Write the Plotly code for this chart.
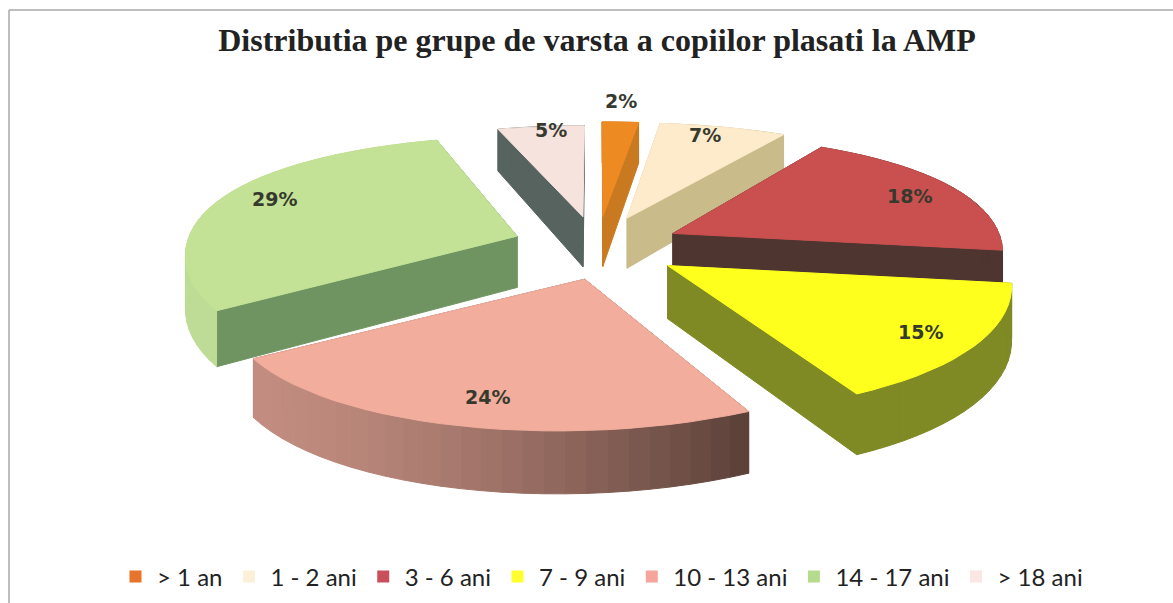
import math
import plotly.graph_objects as go

# --- data ---
CATEGORIES = ["> 1 an", "1 - 2 ani", "3 - 6 ani", "7 - 9 ani", "10 - 13 ani", "14 - 17 ani", "> 18 ani"]
PERCENTS = [2, 7, 18, 15, 24, 29, 5]
TITLE = "Distributia pe grupe de varsta a copiilor plasati la AMP"

# --- style ---
TOP = ["#EE8A22", "#FDEBCB", "#C9504F", "#FFFF1E", "#F2AD9C", "#C3E295", "#F7E3DE"]
LEGEND_COLORS = ["#E8742C", "#FDF0D8", "#C9505A", "#FFFF30", "#F5A59C", "#B5DC8C", "#FBE6E6"]
EDGE = ["#C97A20", "#C9BB8A", "#4F3530", "#7F8A25", "#8A5A50", "#6F9461", "#56635F"]
ARC_A = ["#C97A20", "#C9BB8A", "#4F3530", "#7F8A25", "#C28C80", "#BEDC95", "#56635F"]
ARC_B = ["#C97A20", "#C9BB8A", "#4F3530", "#7F8A25", "#5A4038", "#BEDC95", "#56635F"]
LABEL_XY = [(621, 101), (705, 135), (909, 196), (920, 332), (487, 397), (274, 199), (551, 130)]
DRAW_ORDER = [6, 1, 0, 2, 5, 3, 4]
EXPLODE = 0.23
RADIUS = [1.0, 1.0, 0.957, 0.97, 0.99, 0.96, 0.95]
NUDGE_X = [5, 8, 9, 8, 12, -2, 2]
SHEAR_X = [0, 0, 0, 0, 25, 0, 0]


def project(px, py):
    x = 593 + 345 * (1 - 0.13 * py) * px
    if py > 0:
        y = 247 - 143 * py / (1 + 0.33 * py)
    else:
        y = 247 - 143 * py * (1 - 0.05 * py)
    return x, y


def depth(py):
    return 52 - 9 * py


def mix(a, b, t):
    ca = [int(a[i:i + 2], 16) for i in (1, 3, 5)]
    cb = [int(b[i:i + 2], 16) for i in (1, 3, 5)]
    return "rgb(%d,%d,%d)" % tuple(round(u + (v - u) * t) for u, v in zip(ca, cb))


def poly(points, color):
    xs = [p[0] for p in points] + [points[0][0]]
    ys = [p[1] for p in points] + [points[0][1]]
    return go.Scatter(x=xs, y=ys, mode="lines", fill="toself", fillcolor=color,
                      line=dict(color=color, width=1), hoverinfo="skip", showlegend=False)


total = sum(PERCENTS)
starts = []
acc = 0
for v in PERCENTS:
    starts.append(acc)
    acc += v

fig = go.Figure()
for i in DRAW_ORDER:
    a0 = 2 * math.pi * starts[i] / total
    a1 = 2 * math.pi * (starts[i] + PERCENTS[i]) / total
    mid = (a0 + a1) / 2
    ox, oy = EXPLODE * math.sin(mid), EXPLODE * math.cos(mid)
    n = max(4, int(PERCENTS[i] * 1.2))
    r = RADIUS[i]
    arc = [(ox + r * math.sin(a0 + (a1 - a0) * k / n), oy + r * math.cos(a0 + (a1 - a0) * k / n)) for k in range(n + 1)]
    apex = (ox, oy)

    def top(p):
        x, y = project(*p)
        return x + NUDGE_X[i] + SHEAR_X[i] * (p[1] - oy), y

    def down(p):
        x, y = top(p)
        return x, y + depth(p[1])

    for tip in (arc[0], arc[-1]):
        fig.add_trace(poly([top(apex), top(tip), down(tip), down(apex)], EDGE[i]))
    xmin = min(top(p)[0] for p in arc)
    xmax = max(top(p)[0] for p in arc)
    for k in range(n):
        p, q = arc[k], arc[k + 1]
        t = ((top(p)[0] + top(q)[0]) / 2 - xmin) / max(1, xmax - xmin)
        fig.add_trace(poly([top(p), top(q), down(q), down(p)], mix(ARC_A[i], ARC_B[i], t ** 1.5)))
    fig.add_trace(poly([top(apex)] + [top(p) for p in arc], TOP[i]))

for name, color in zip(CATEGORIES, LEGEND_COLORS):
    fig.add_trace(go.Scatter(x=[None], y=[None], mode="markers", name=name,
                             marker=dict(symbol="square", size=13, color=color)))

annotations = [dict(x=x, y=y, xref="x", yref="y", text=f"{v}%", showarrow=False,
                    font=dict(family="DejaVu Sans", size=19, color="#363A2E", weight="bold"))
               for v, (x, y) in zip(PERCENTS, LABEL_XY)]

fig.update_layout(
    width=1173, height=603, autosize=False,
    margin=dict(l=0, r=0, t=0, b=0),
    paper_bgcolor="white", plot_bgcolor="white",
    title=dict(text=TITLE, x=597 / 1173, y=1 - 40 / 603, xanchor="center", yanchor="middle",
               font=dict(family="Liberation Serif", size=32, color="#222222", weight="bold")),
    xaxis=dict(range=[0, 1173], visible=False, fixedrange=True),
    yaxis=dict(range=[603, 0], visible=False, fixedrange=True),
    legend=dict(orientation="h", x=601 / 1173, xanchor="center", y=1 - 577 / 603, yanchor="middle",
                font=dict(family="Lato", size=24, color="#222222"), itemsizing="constant",
                itemwidth=33, bgcolor="rgba(0,0,0,0)", traceorder="normal"),
    annotations=annotations,
    shapes=[
        dict(type="line", xref="x", yref="y", x0=9, y0=10, x1=9, y1=603, line=dict(color="#A8A8A8", width=1.5)),
        dict(type="line", xref="x", yref="y", x0=9, y0=10, x1=1173, y1=10, line=dict(color="#A8A8A8", width=1.5)),
    ],
)

fig.write_html("out.html", config=dict(displayModeBar=False),
               post_script="document.body.style.margin='0';document.body.style.overflow='hidden';")
